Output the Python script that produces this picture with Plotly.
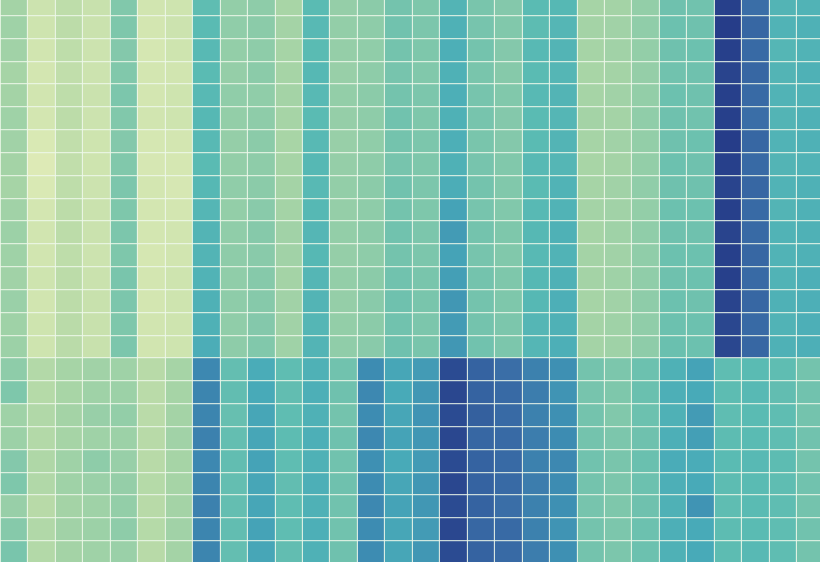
import plotly.graph_objects as go

x_cols = list(range(30))
y_rows = list(range(25))

# rows 0-15 (upper block)
r00 = [0.31,0.13,0.19,0.15,0.45,0.11,0.12,0.58,0.38,0.40, 0.29,0.60,0.37,0.41,0.50,0.46,0.64,0.48,0.44,0.60, 0.62,0.30,0.31,0.38,0.52,0.51,0.99,0.86,0.64,0.65]
r01 = [0.33,0.12,0.20,0.14,0.46,0.10,0.13,0.60,0.39,0.41, 0.31,0.61,0.38,0.40,0.51,0.47,0.66,0.49,0.45,0.59, 0.63,0.31,0.32,0.39,0.53,0.52,1.00,0.88,0.65,0.66]
r02 = [0.32,0.11,0.19,0.13,0.44,0.09,0.12,0.61,0.38,0.40, 0.30,0.60,0.37,0.39,0.50,0.46,0.67,0.50,0.44,0.61, 0.64,0.30,0.32,0.38,0.52,0.53,0.99,0.87,0.63,0.65]
r03 = [0.30,0.10,0.18,0.13,0.45,0.10,0.11,0.60,0.37,0.41, 0.30,0.62,0.36,0.40,0.49,0.45,0.66,0.48,0.43,0.60, 0.63,0.29,0.31,0.37,0.51,0.52,0.98,0.88,0.64,0.66]
r04 = [0.31,0.11,0.19,0.14,0.47,0.10,0.12,0.61,0.39,0.39, 0.31,0.61,0.38,0.41,0.50,0.47,0.67,0.49,0.45,0.61, 0.64,0.30,0.32,0.38,0.53,0.52,0.99,0.87,0.65,0.65]
r05 = [0.33,0.10,0.20,0.13,0.45,0.11,0.12,0.62,0.38,0.40, 0.30,0.60,0.37,0.40,0.51,0.46,0.66,0.49,0.44,0.60, 0.63,0.31,0.31,0.39,0.52,0.51,0.99,0.86,0.64,0.66]
r06 = [0.32,0.06,0.18,0.12,0.44,0.09,0.10,0.61,0.37,0.41, 0.29,0.61,0.36,0.39,0.50,0.47,0.67,0.48,0.44,0.60, 0.64,0.30,0.32,0.38,0.52,0.53,1.00,0.88,0.65,0.66]
r07 = [0.31,0.04,0.18,0.12,0.45,0.08,0.09,0.60,0.38,0.40, 0.30,0.62,0.37,0.40,0.49,0.46,0.66,0.49,0.45,0.61, 0.63,0.29,0.31,0.38,0.53,0.52,0.99,0.87,0.64,0.65]
r08 = [0.30,0.06,0.19,0.13,0.47,0.10,0.08,0.62,0.39,0.41, 0.31,0.61,0.38,0.41,0.51,0.47,0.68,0.50,0.45,0.60, 0.65,0.30,0.32,0.39,0.52,0.52,0.98,0.88,0.65,0.66]
r09 = [0.32,0.10,0.20,0.14,0.46,0.10,0.10,0.63,0.38,0.42, 0.31,0.62,0.37,0.40,0.50,0.46,0.72,0.49,0.45,0.61, 0.65,0.31,0.32,0.38,0.53,0.53,0.99,0.87,0.64,0.66]
r10 = [0.34,0.11,0.20,0.14,0.47,0.10,0.11,0.64,0.39,0.43, 0.32,0.63,0.38,0.41,0.51,0.47,0.74,0.50,0.46,0.62, 0.66,0.30,0.33,0.39,0.52,0.52,0.98,0.87,0.65,0.66]
r11 = [0.33,0.11,0.19,0.13,0.46,0.09,0.11,0.64,0.40,0.42, 0.32,0.62,0.37,0.40,0.50,0.47,0.72,0.49,0.45,0.61, 0.65,0.31,0.32,0.39,0.53,0.53,0.99,0.88,0.65,0.66]
r12 = [0.32,0.12,0.20,0.14,0.48,0.10,0.12,0.65,0.39,0.43, 0.31,0.63,0.38,0.41,0.51,0.48,0.73,0.50,0.46,0.62, 0.66,0.31,0.33,0.39,0.52,0.53,0.99,0.87,0.65,0.67]
r13 = [0.35,0.11,0.20,0.15,0.47,0.10,0.12,0.66,0.40,0.43, 0.32,0.64,0.37,0.42,0.52,0.48,0.75,0.50,0.46,0.62, 0.67,0.30,0.32,0.40,0.53,0.52,0.98,0.88,0.66,0.67]
r14 = [0.33,0.12,0.21,0.15,0.46,0.11,0.12,0.66,0.39,0.44, 0.32,0.63,0.38,0.41,0.51,0.47,0.74,0.50,0.47,0.63, 0.66,0.31,0.33,0.39,0.53,0.53,0.97,0.87,0.65,0.67]
r15 = [0.34,0.12,0.21,0.15,0.47,0.11,0.12,0.68,0.40,0.45, 0.33,0.64,0.39,0.42,0.52,0.48,0.75,0.51,0.47,0.63, 0.67,0.31,0.33,0.40,0.54,0.53,0.97,0.88,0.66,0.67]
# rows 16-24 (lower block)
r16 = [0.40,0.24,0.30,0.32,0.33,0.22,0.30,0.79,0.56,0.69, 0.58,0.66,0.51,0.78,0.71,0.74,0.96,0.89,0.86,0.81, 0.77,0.50,0.47,0.53,0.66,0.72,0.58,0.60,0.58,0.50]
r17 = [0.46,0.23,0.29,0.33,0.34,0.21,0.30,0.80,0.57,0.70, 0.57,0.67,0.52,0.79,0.70,0.75,0.97,0.89,0.87,0.82, 0.76,0.49,0.46,0.54,0.67,0.70,0.59,0.61,0.57,0.51]
r18 = [0.33,0.25,0.31,0.36,0.38,0.21,0.31,0.80,0.55,0.71, 0.58,0.66,0.50,0.78,0.71,0.76,0.96,0.90,0.87,0.81, 0.77,0.50,0.45,0.53,0.66,0.74,0.58,0.60,0.58,0.50]
r19 = [0.34,0.24,0.30,0.33,0.34,0.22,0.32,0.81,0.56,0.71, 0.59,0.67,0.52,0.79,0.72,0.75,0.97,0.88,0.87,0.82, 0.78,0.50,0.47,0.52,0.67,0.73,0.59,0.60,0.58,0.51]
r20 = [0.44,0.26,0.33,0.40,0.36,0.22,0.30,0.79,0.57,0.72, 0.58,0.66,0.51,0.77,0.70,0.74,0.96,0.89,0.87,0.81, 0.79,0.51,0.48,0.54,0.69,0.69,0.60,0.61,0.59,0.50]
r21 = [0.46,0.25,0.33,0.35,0.37,0.23,0.30,0.80,0.56,0.71, 0.57,0.67,0.52,0.78,0.71,0.75,0.97,0.89,0.87,0.82, 0.78,0.50,0.47,0.53,0.67,0.70,0.59,0.60,0.58,0.51]
r22 = [0.36,0.22,0.31,0.33,0.38,0.22,0.31,0.81,0.56,0.71, 0.58,0.66,0.51,0.79,0.72,0.75,0.96,0.89,0.86,0.81, 0.77,0.49,0.46,0.52,0.66,0.76,0.58,0.60,0.58,0.50]
r23 = [0.43,0.25,0.32,0.34,0.40,0.23,0.32,0.80,0.57,0.72, 0.58,0.67,0.51,0.78,0.71,0.74,0.97,0.88,0.87,0.81, 0.76,0.50,0.47,0.53,0.67,0.70,0.59,0.60,0.58,0.51]
r24 = [0.48,0.24,0.31,0.33,0.35,0.22,0.31,0.80,0.56,0.71, 0.57,0.66,0.52,0.78,0.71,0.75,0.96,0.89,0.87,0.82, 0.77,0.50,0.47,0.53,0.66,0.70,0.59,0.61,0.58,0.50]

z = [r00, r01, r02, r03, r04, r05, r06, r07, r08, r09, r10, r11, r12,
     r13, r14, r15, r16, r17, r18, r19, r20, r21, r22, r23, r24]

colorscale = [
    [0.00, "#e3edb9"],
    [0.10, "#d3e6b1"],
    [0.20, "#bcdca9"],
    [0.30, "#a6d4a6"],
    [0.40, "#8ecca9"],
    [0.50, "#74c3ad"],
    [0.60, "#5abbb3"],
    [0.70, "#48aab8"],
    [0.78, "#3d8cb2"],
    [0.86, "#3a6ea7"],
    [0.93, "#2f5598"],
    [1.00, "#263d89"],
]

fig = go.Figure(go.Heatmap(
    z=z, x=x_cols, y=y_rows,
    colorscale=colorscale, zmin=0, zmax=1,
    xgap=1, ygap=1, showscale=False,
))

fig.update_layout(
    width=820, height=562,
    margin=dict(l=0, r=0, t=0, b=0),
    paper_bgcolor="white", plot_bgcolor="#eef8ea",
    xaxis=dict(range=[-0.53, 29.34], showticklabels=False, showgrid=False,
               zeroline=False, ticks=""),
    yaxis=dict(range=[24.41, -0.2], showticklabels=False, showgrid=False,
               zeroline=False, ticks="", showline=True, linecolor="#9a9a9a",
               linewidth=1),
)

fig.write_html("out.html")
